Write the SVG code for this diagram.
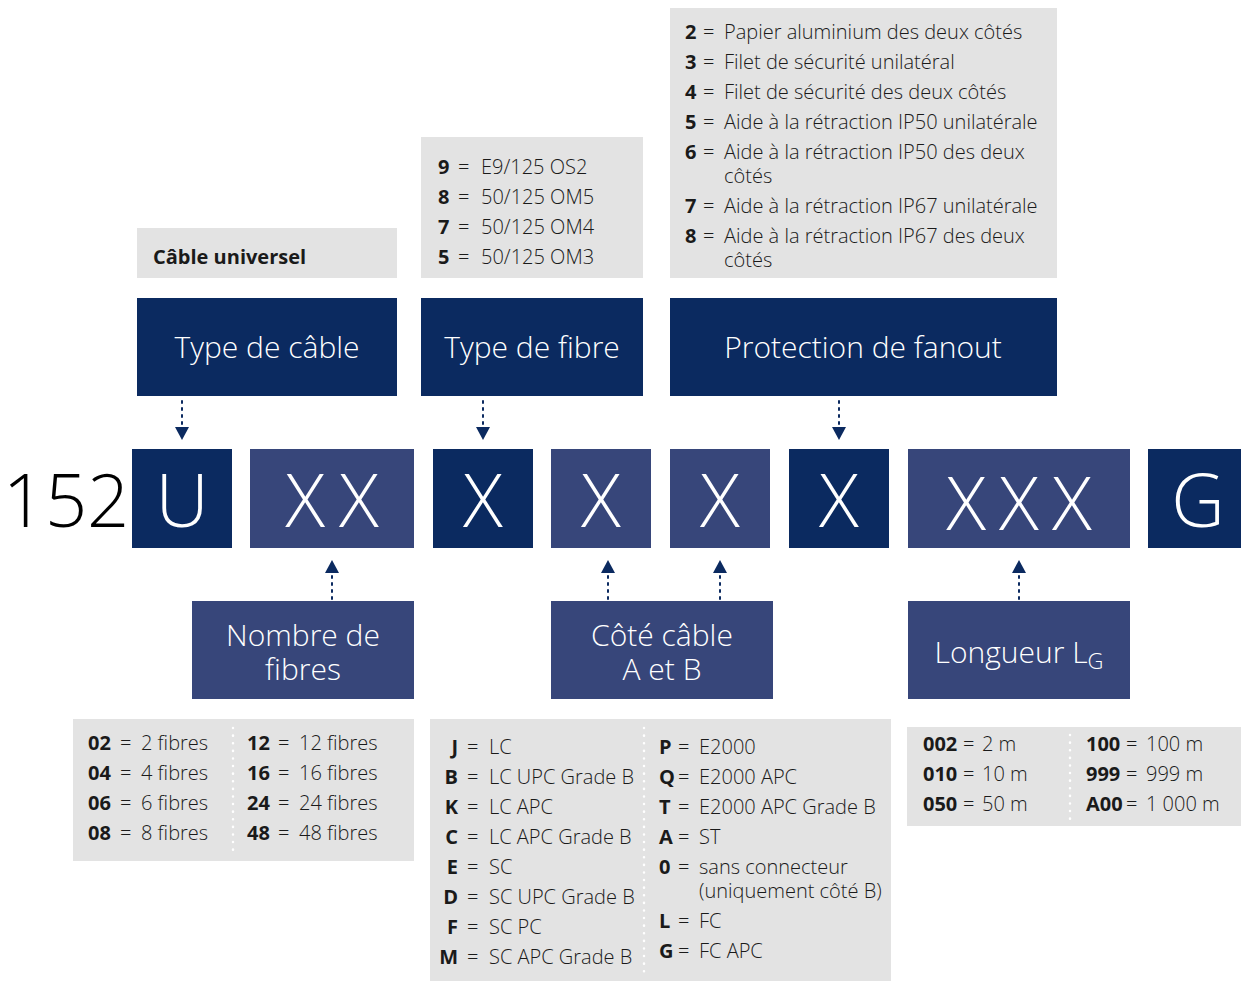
<svg xmlns="http://www.w3.org/2000/svg" width="1241" height="982" viewBox="0 0 1241 982">
<defs>
<style>
.dk{fill:#0b2a60}
.lt{fill:#37467a}
.gr{fill:#e3e3e3}
.lab{font-family:"Open Sans","Noto Sans",sans-serif;font-size:30px;fill:#fff;text-anchor:middle;font-weight:300}
.code{font-family:"Open Sans","Noto Sans",sans-serif;font-size:74px;fill:#fff;text-anchor:middle;font-weight:300}
.t{font-family:"Open Sans","Noto Sans",sans-serif;font-size:20px;fill:#1a1a1a;font-weight:300}
.b{font-weight:700}
.conn{stroke:#0b2a60;stroke-width:2;stroke-dasharray:2 5;stroke-linecap:round;fill:none}
.sep{stroke:#fff;stroke-width:2.5;stroke-dasharray:0.1 7.5;stroke-linecap:round;fill:none}
</style>
<marker id="ah" viewBox="0 0 13 14" refX="0" refY="7" markerWidth="13" markerHeight="14" markerUnits="userSpaceOnUse" orient="auto">
<path d="M0,0 L13,7 L0,14 Z" fill="#0b2a60"/>
</marker>
</defs>

<g id="top-info-cable">
<rect class="gr" x="137" y="228" width="260" height="50"/>
<text class="t b" x="153" y="264">Câble universel</text>
</g>
<g id="top-info-fibre">
<rect class="gr" x="421" y="137" width="222" height="141"/>
<text class="t" y="174"><tspan class="b" x="438">9</tspan><tspan x="458">=</tspan><tspan x="481">E9/125 OS2</tspan></text>
<text class="t" y="204"><tspan class="b" x="438">8</tspan><tspan x="458">=</tspan><tspan x="481">50/125 OM5</tspan></text>
<text class="t" y="234"><tspan class="b" x="438">7</tspan><tspan x="458">=</tspan><tspan x="481">50/125 OM4</tspan></text>
<text class="t" y="264"><tspan class="b" x="438">5</tspan><tspan x="458">=</tspan><tspan x="481">50/125 OM3</tspan></text>
</g>
<g id="top-info-fanout">
<rect class="gr" x="670" y="8" width="387" height="270"/>
<text class="t" y="39"><tspan class="b" x="685">2</tspan><tspan x="703">=</tspan><tspan x="724">Papier aluminium des deux côtés</tspan></text>
<text class="t" y="69"><tspan class="b" x="685">3</tspan><tspan x="703">=</tspan><tspan x="724">Filet de sécurité unilatéral</tspan></text>
<text class="t" y="99"><tspan class="b" x="685">4</tspan><tspan x="703">=</tspan><tspan x="724">Filet de sécurité des deux côtés</tspan></text>
<text class="t" y="129"><tspan class="b" x="685">5</tspan><tspan x="703">=</tspan><tspan x="724">Aide à la rétraction IP50 unilatérale</tspan></text>
<text class="t" y="159"><tspan class="b" x="685">6</tspan><tspan x="703">=</tspan><tspan x="724">Aide à la rétraction IP50 des deux</tspan></text>
<text class="t" x="724" y="183">côtés</text>
<text class="t" y="213"><tspan class="b" x="685">7</tspan><tspan x="703">=</tspan><tspan x="724">Aide à la rétraction IP67 unilatérale</tspan></text>
<text class="t" y="243"><tspan class="b" x="685">8</tspan><tspan x="703">=</tspan><tspan x="724">Aide à la rétraction IP67 des deux</tspan></text>
<text class="t" x="724" y="267">côtés</text>
</g>

<g id="type-cable"><rect class="dk" x="137" y="298" width="260" height="98"/><text class="lab" x="267" y="358">Type de câble</text></g>
<g id="type-fibre"><rect class="dk" x="421" y="298" width="222" height="98"/><text class="lab" x="532" y="358">Type de fibre</text></g>
<g id="protection-fanout"><rect class="dk" x="670" y="298" width="387" height="98"/><text class="lab" x="863" y="358">Protection de fanout</text></g>

<g id="prefix"><text x="66" y="527" style="font-family:'Open Sans','Noto Sans',sans-serif;font-size:74px;font-weight:300;fill:#000;text-anchor:middle">152</text></g>
<g id="code-U"><rect class="dk" x="132" y="449" width="100" height="99"/><text class="code" x="182" y="527">U</text></g>
<g id="code-XX"><rect class="lt" x="250" y="449" width="164" height="99"/><text class="code" x="332" y="527">X<tspan dx="14">X</tspan></text></g>
<g id="code-X1"><rect class="dk" x="433" y="449" width="100" height="99"/><text class="code" x="483" y="527">X</text></g>
<g id="code-X2"><rect class="lt" x="551" y="449" width="100" height="99"/><text class="code" x="601" y="527">X</text></g>
<g id="code-X3"><rect class="lt" x="670" y="449" width="100" height="99"/><text class="code" x="720" y="527">X</text></g>
<g id="code-X4"><rect class="dk" x="789" y="449" width="100" height="99"/><text class="code" x="839" y="527">X</text></g>
<g id="code-XXX"><rect class="lt" x="908" y="449" width="222" height="99"/><text class="code" x="1019" y="530">X<tspan dx="13">X</tspan><tspan dx="13">X</tspan></text></g>
<g id="code-G"><rect class="dk" x="1148" y="449" width="93" height="99"/><text class="code" x="1198" y="527">G</text></g>

<g id="nombre-fibres"><rect class="lt" x="192" y="601" width="222" height="98"/><text class="lab" x="303" y="646">Nombre de</text><text class="lab" x="303" y="680">fibres</text></g>
<g id="cote-cable"><rect class="lt" x="551" y="601" width="222" height="98"/><text class="lab" x="662" y="646">Côté câble</text><text class="lab" x="662" y="680">A et B</text></g>
<g id="longueur"><rect class="lt" x="908" y="601" width="222" height="98"/><text class="lab" x="1019" y="663">Longueur L<tspan font-size="22" dy="6">G</tspan></text></g>

<g id="connectors">
<line class="conn" x1="182" y1="401" x2="182" y2="427" marker-end="url(#ah)"/>
<line class="conn" x1="483" y1="401" x2="483" y2="427" marker-end="url(#ah)"/>
<line class="conn" x1="839" y1="401" x2="839" y2="427" marker-end="url(#ah)"/>
<line class="conn" x1="332" y1="599" x2="332" y2="573" marker-end="url(#ah)"/>
<line class="conn" x1="608" y1="599" x2="608" y2="573" marker-end="url(#ah)"/>
<line class="conn" x1="720" y1="599" x2="720" y2="573" marker-end="url(#ah)"/>
<line class="conn" x1="1019" y1="599" x2="1019" y2="573" marker-end="url(#ah)"/>
</g>

<g id="table-fibres">
<rect class="gr" x="73" y="719" width="341" height="142"/>
<line class="sep" x1="233" y1="728" x2="233" y2="854"/>
<text class="t" y="750"><tspan class="b" x="88">02</tspan><tspan x="120">=</tspan><tspan x="141">2 fibres</tspan></text>
<text class="t" y="780"><tspan class="b" x="88">04</tspan><tspan x="120">=</tspan><tspan x="141">4 fibres</tspan></text>
<text class="t" y="810"><tspan class="b" x="88">06</tspan><tspan x="120">=</tspan><tspan x="141">6 fibres</tspan></text>
<text class="t" y="840"><tspan class="b" x="88">08</tspan><tspan x="120">=</tspan><tspan x="141">8 fibres</tspan></text>
<text class="t" y="750"><tspan class="b" x="247">12</tspan><tspan x="278">=</tspan><tspan x="299">12 fibres</tspan></text>
<text class="t" y="780"><tspan class="b" x="247">16</tspan><tspan x="278">=</tspan><tspan x="299">16 fibres</tspan></text>
<text class="t" y="810"><tspan class="b" x="247">24</tspan><tspan x="278">=</tspan><tspan x="299">24 fibres</tspan></text>
<text class="t" y="840"><tspan class="b" x="247">48</tspan><tspan x="278">=</tspan><tspan x="299">48 fibres</tspan></text>
</g>

<g id="table-connecteurs">
<rect class="gr" x="430" y="719" width="461" height="262"/>
<line class="sep" x1="644" y1="728" x2="644" y2="976"/>
<text class="t b" x="458" y="754" text-anchor="end">J</text><text class="t" x="467" y="754">=</text><text class="t" x="489" y="754">LC</text>
<text class="t b" x="458" y="784" text-anchor="end">B</text><text class="t" x="467" y="784">=</text><text class="t" x="489" y="784">LC UPC Grade B</text>
<text class="t b" x="458" y="814" text-anchor="end">K</text><text class="t" x="467" y="814">=</text><text class="t" x="489" y="814">LC APC</text>
<text class="t b" x="458" y="844" text-anchor="end">C</text><text class="t" x="467" y="844">=</text><text class="t" x="489" y="844">LC APC Grade B</text>
<text class="t b" x="458" y="874" text-anchor="end">E</text><text class="t" x="467" y="874">=</text><text class="t" x="489" y="874">SC</text>
<text class="t b" x="458" y="904" text-anchor="end">D</text><text class="t" x="467" y="904">=</text><text class="t" x="489" y="904">SC UPC Grade B</text>
<text class="t b" x="458" y="934" text-anchor="end">F</text><text class="t" x="467" y="934">=</text><text class="t" x="489" y="934">SC PC</text>
<text class="t b" x="458" y="964" text-anchor="end">M</text><text class="t" x="467" y="964">=</text><text class="t" x="489" y="964">SC APC Grade B</text>
<text class="t" y="754"><tspan class="b" x="659">P</tspan><tspan x="678">=</tspan><tspan x="699">E2000</tspan></text>
<text class="t" y="784"><tspan class="b" x="659">Q</tspan><tspan x="678">=</tspan><tspan x="699">E2000 APC</tspan></text>
<text class="t" y="814"><tspan class="b" x="659">T</tspan><tspan x="678">=</tspan><tspan x="699">E2000 APC Grade B</tspan></text>
<text class="t" y="844"><tspan class="b" x="659">A</tspan><tspan x="678">=</tspan><tspan x="699">ST</tspan></text>
<text class="t" y="874"><tspan class="b" x="659">0</tspan><tspan x="678">=</tspan><tspan x="699">sans connecteur</tspan></text>
<text class="t" x="699" y="898">(uniquement côté B)</text>
<text class="t" y="928"><tspan class="b" x="659">L</tspan><tspan x="678">=</tspan><tspan x="699">FC</tspan></text>
<text class="t" y="958"><tspan class="b" x="659">G</tspan><tspan x="678">=</tspan><tspan x="699">FC APC</tspan></text>
</g>

<g id="table-longueur">
<rect class="gr" x="907" y="727" width="334" height="99"/>
<line class="sep" x1="1070" y1="735" x2="1070" y2="820"/>
<text class="t" y="751"><tspan class="b" x="923">002</tspan><tspan x="963">=</tspan><tspan x="982">2 m</tspan></text>
<text class="t" y="781"><tspan class="b" x="923">010</tspan><tspan x="963">=</tspan><tspan x="982">10 m</tspan></text>
<text class="t" y="811"><tspan class="b" x="923">050</tspan><tspan x="963">=</tspan><tspan x="982">50 m</tspan></text>
<text class="t" y="751"><tspan class="b" x="1086">100</tspan><tspan x="1126">=</tspan><tspan x="1146">100 m</tspan></text>
<text class="t" y="781"><tspan class="b" x="1086">999</tspan><tspan x="1126">=</tspan><tspan x="1146">999 m</tspan></text>
<text class="t" y="811"><tspan class="b" x="1086">A00</tspan><tspan x="1126">=</tspan><tspan x="1146">1 000 m</tspan></text>
</g>
</svg>
